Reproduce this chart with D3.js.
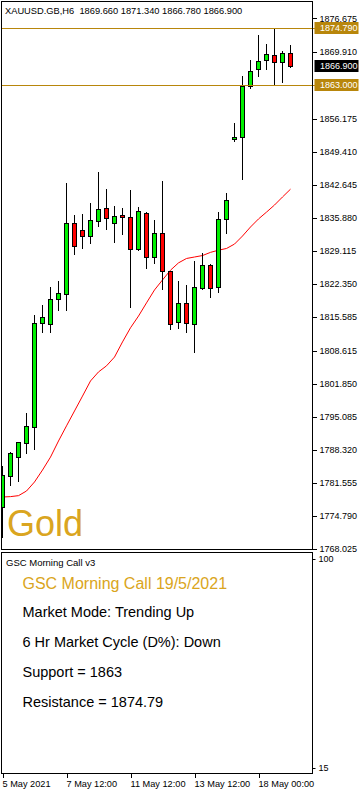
<!DOCTYPE html>
<html><head><meta charset="utf-8">
<script src="https://cdn.jsdelivr.net/npm/d3@7"></script>
<style>
html,body{margin:0;padding:0;background:#fff;}
svg{display:block;font-family:"Liberation Sans",Arial,sans-serif;}
</style></head><body>
<svg id="c" width="363" height="791"></svg>
<script>
// ---- data (H6 candles) ----
const opens =[1776.51,1782.99,1786.88,1789.75,1793.03,1814.34,1814.01,1819.13,1820.16,1834.71,1833.27,1832.17,1835.24,1837.78,1834.71,1836.35,1835.94,1829.38,1836.82,1827.74,1832.66,1824.93,1814.54,1818.31,1814.01,1821.39,1826.10,1821.59,1835.53,1851.92,1852.33,1862.90,1866.27,1868.11,1869.13,1867.70,1869.66];
const highs =[1784.97,1787.91,1789.96,1795.90,1815.92,1817.97,1821.72,1822.88,1843.03,1836.41,1836.61,1838.93,1845.28,1841.74,1838.25,1837.78,1841.53,1838.05,1837.02,1835.38,1843.38,1824.95,1822.88,1822.06,1826.98,1828.56,1826.30,1836.96,1840.98,1855.20,1864.89,1868.17,1873.29,1871.45,1874.79,1869.95,1871.34];
const lows  =[1770.42,1781.08,1781.96,1787.70,1788.40,1812.50,1812.50,1816.94,1816.94,1828.42,1829.71,1830.73,1834.22,1833.54,1830.94,1832.52,1817.62,1829.20,1825.61,1826.51,1821.18,1812.99,1813.19,1812.37,1808.40,1821.30,1819.54,1820.69,1832.66,1851.63,1843.85,1862.49,1864.95,1866.33,1863.05,1863.66,1866.78];
const closes=[1783.13,1787.58,1789.83,1793.17,1814.22,1815.44,1819.13,1820.36,1834.71,1830.12,1832.17,1835.32,1837.58,1835.73,1836.14,1835.94,1829.38,1837.29,1827.74,1832.66,1824.93,1814.01,1818.31,1814.22,1821.59,1826.10,1821.39,1835.53,1839.42,1852.33,1862.90,1865.98,1868.03,1869.40,1867.70,1869.54,1866.90];
const maValues=[1778.62,1778.70,1778.90,1779.85,1781.70,1784.15,1786.80,1790.10,1793.20,1796.25,1799.30,1802.40,1804.25,1805.50,1807.30,1810.40,1813.30,1815.70,1818.40,1821.05,1823.10,1825.10,1826.60,1827.50,1827.80,1828.10,1828.75,1829.20,1829.55,1830.45,1832.10,1833.95,1835.60,1837.00,1838.45,1840.10,1841.70];
const priceTicks=[1876.675,1869.910,1856.175,1849.410,1842.645,1835.880,1829.115,1822.350,1815.585,1808.615,1801.850,1795.085,1788.320,1781.555,1774.790,1768.025];
const timeTickIdx=[0,8,16,24,32];
const timeLabels=["5 May 2021","7 May 12:00","11 May 12:00","13 May 12:00","18 May 00:00"];
const resistance=1874.79, support=1863.00, lastPrice=1866.90;
const subTicks=[100,15];
const headerText="XAUUSD.GB,H6  1869.660 1871.340 1866.780 1866.900";
const panelTitle="GSC Morning Call v3";
const panelLines=["Market Mode: Trending Up","6 Hr Market Cycle (D%): Down","Support = 1863","Resistance = 1874.79"];
const panelHeading="GSC Morning Call 19/5/2021";

// ---- layout ----
const svg=d3.select("#c");
const GOLD_LINE="#B8860B", GOLD_TXT="#DAA520";
const L=1.5,R=312.5,T=1.5,B=549.5, ST=552.5, SB=773.5;
const x=d3.scaleLinear().domain([0,36]).range([2.5,290.5]);
const y=d3.scaleLinear().domain([1767.966,1880.056]).range([549,2]);
const ys=d3.scaleLinear().domain([15,100]).range([768,559]);

svg.append("defs").append("clipPath").attr("id","clip")
  .append("rect").attr("x",2).attr("y",2).attr("width",310).attr("height",547);

const plot=svg.append("g").attr("clip-path","url(#clip)");

// moving average
plot.append("path").datum(maValues)
  .attr("d",d3.line().x((d,i)=>x(i)).y(d=>y(d)))
  .attr("fill","none").attr("stroke","#FF0000").attr("stroke-width",1);

// support/resistance lines
[resistance,support].forEach(v=>{
  const yy=Math.round(y(v))+0.5;
  svg.append("line").attr("x1",L).attr("x2",316).attr("y1",yy).attr("y2",yy)
    .attr("stroke",GOLD_LINE).attr("stroke-width",1).attr("shape-rendering","crispEdges");
});

// candles
const idx=d3.range(opens.length);
const cg=plot.append("g").attr("shape-rendering","crispEdges");
cg.selectAll("line.w").data(idx).join("line").attr("class","w")
  .attr("x1",i=>x(i)).attr("x2",i=>x(i))
  .attr("y1",i=>Math.round(y(highs[i]))).attr("y2",i=>Math.round(y(lows[i]))+1)
  .attr("stroke","#000").attr("stroke-width",1);
cg.selectAll("rect.b").data(idx).join("rect").attr("class","b")
  .attr("x",i=>x(i)-2).attr("width",4)
  .attr("y",i=>Math.round(y(Math.max(opens[i],closes[i])))+0.5)
  .attr("height",i=>Math.max(1,Math.round(y(Math.min(opens[i],closes[i])))-Math.round(y(Math.max(opens[i],closes[i])))))
  .attr("fill",i=>closes[i]>=opens[i]?"#00F000":"#FF0000")
  .attr("stroke","#000").attr("stroke-width",1);

// Gold label
svg.append("text").attr("x",7).attr("y",536).attr("font-size",36).attr("fill",GOLD_TXT).text("Gold");

// header
svg.append("text").attr("x",5).attr("y",13.5).attr("font-size",9.3).attr("fill","#000")
  .style("white-space","pre").text(headerText);

// frames
svg.append("rect").attr("x",L).attr("y",T).attr("width",R-L).attr("height",B-T)
  .attr("fill","none").attr("stroke","#000").attr("shape-rendering","crispEdges");
svg.append("rect").attr("x",L).attr("y",ST).attr("width",R-L).attr("height",SB-ST)
  .attr("fill","none").attr("stroke","#000").attr("shape-rendering","crispEdges");

// price axis
const ax=svg.append("g").attr("transform",`translate(${R},0)`)
  .call(d3.axisRight(y).tickValues(priceTicks).tickSize(4).tickPadding(3).tickFormat(d3.format(".3f")));
ax.select(".domain").remove();
ax.selectAll(".tick line").attr("shape-rendering","crispEdges");
ax.selectAll("text").attr("font-size",9).attr("font-family","Liberation Sans, Arial, sans-serif").attr("fill","#000");

// price tags
function tag(v,bg){
  const yy=Math.round(y(v));
  svg.append("rect").attr("x",314.5).attr("y",yy-6).attr("width",44).attr("height",12).attr("fill",bg);
  svg.append("text").attr("x",320).attr("y",yy).attr("dy","0.34em").attr("font-size",9).attr("fill","#fff")
    .text(d3.format(".3f")(v));
}
tag(resistance,GOLD_LINE);
tag(lastPrice,"#000");
tag(support,GOLD_LINE);

// sub panel axis
const sx=svg.append("g").attr("transform",`translate(${R},0)`)
  .call(d3.axisRight(ys).tickValues(subTicks).tickSize(3).tickPadding(3).tickFormat(d3.format("d")));
sx.select(".domain").remove();
sx.selectAll("text").attr("font-size",9).attr("font-family","Liberation Sans, Arial, sans-serif");

// sub panel text
svg.append("text").attr("x",6).attr("y",566).attr("font-size",9.5).attr("fill","#000").text(panelTitle);
svg.append("text").attr("x",22.5).attr("y",589).attr("font-size",16).attr("fill",GOLD_TXT).text(panelHeading);
panelLines.forEach((t,i)=>{
  svg.append("text").attr("x",22.5).attr("y",617+30*i).attr("font-size",14.5).attr("fill","#000").text(t);
});

// time axis
const tx=svg.append("g").attr("transform",`translate(0,${SB})`)
  .call(d3.axisBottom(x).tickValues(timeTickIdx).tickSize(4).tickPadding(3).tickFormat((d,i)=>timeLabels[i]));
tx.select(".domain").remove();
tx.selectAll(".tick line").attr("shape-rendering","crispEdges");
tx.selectAll("text").attr("text-anchor","start").attr("x",-0.5).attr("font-size",9.2)
  .attr("font-family","Liberation Sans, Arial, sans-serif");
</script>
</body></html>
